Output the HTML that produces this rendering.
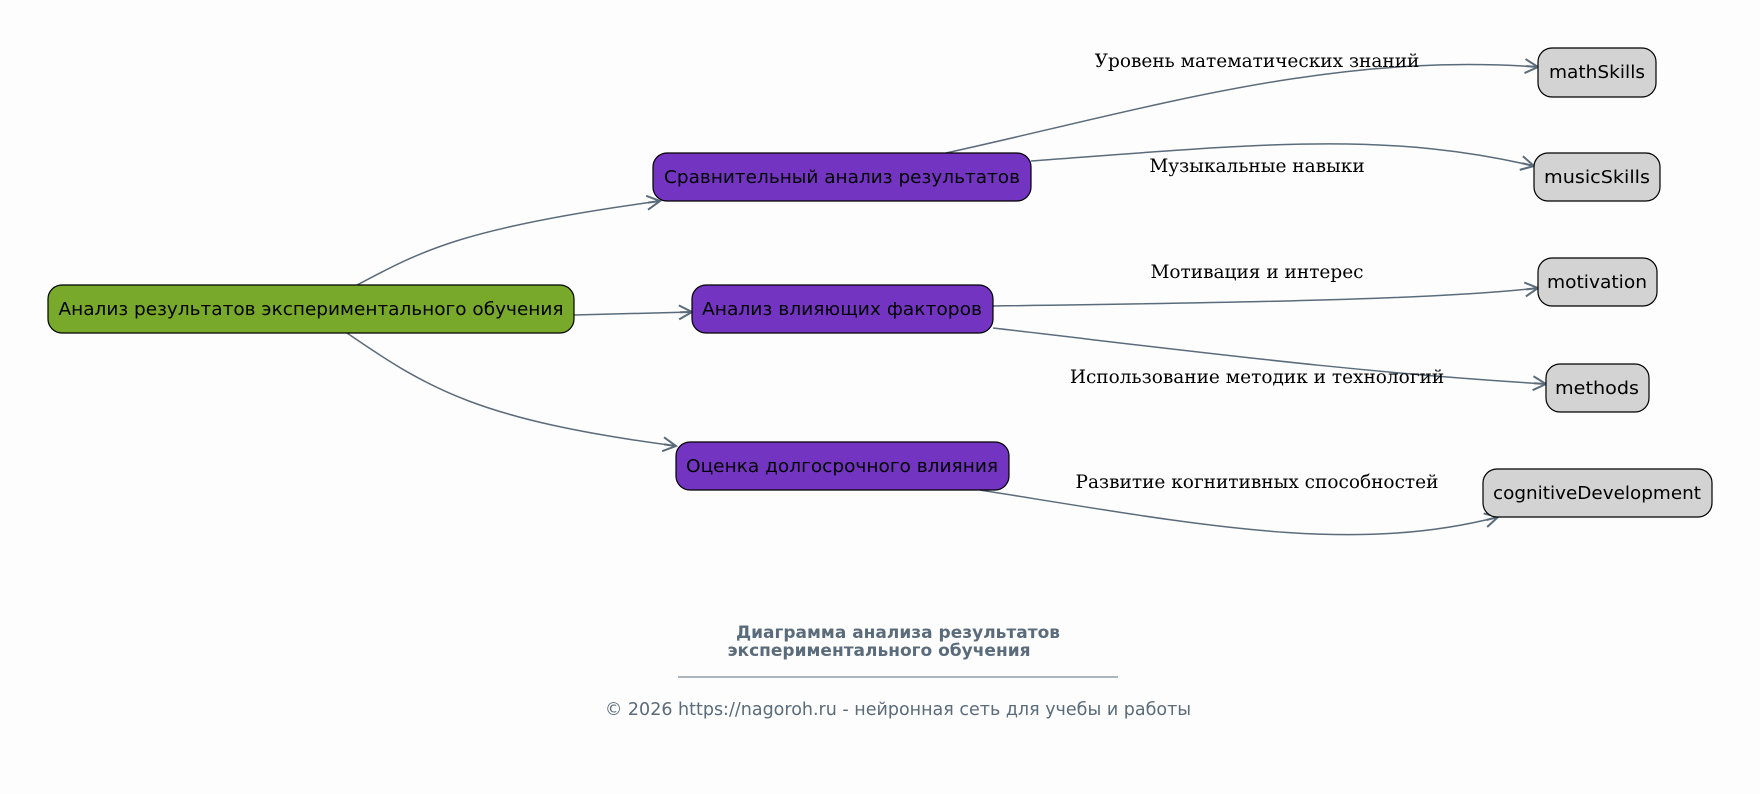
<!DOCTYPE html>
<html><head><meta charset="utf-8"><style>html,body{margin:0;padding:0;background:#fdfdfd}svg{display:block}</style></head>
<body>
<svg width="1760" height="794" viewBox="0 0 1760 794" xmlns="http://www.w3.org/2000/svg">
<defs>
<marker id="a" viewBox="0 0 16 16" refX="14" refY="8" markerWidth="16" markerHeight="16" markerUnits="userSpaceOnUse" orient="auto">
<path d="M1,1 L14,8 L1,15" fill="none" stroke="#5a6b7b" stroke-width="2"/>
<path d="M2,8 L14,8" stroke="#5a6b7b" stroke-width="2"/>
</marker>
</defs>
<rect width="1760" height="794" fill="#fdfdfd"/>
<g fill="none" stroke="#5a6b7b" stroke-width="1.5" marker-end="url(#a)">
<path d="M357,285 C420,252 460,228 660,201"/>
<path d="M574,315 L692,312"/>
<path d="M347,333 C430,390 480,420 676,446"/>
<path d="M946,153 C1150,108 1330,52 1538,67"/>
<path d="M1031,161 C1250,145 1380,130 1534,166"/>
<path d="M993,306 C1300,302 1450,298 1538,288"/>
<path d="M993,328 C1200,352 1350,372 1546,384"/>
<path d="M980,490 C1200,525 1350,555 1498,517"/>
</g>
<g stroke="#000" stroke-width="1.2">
<rect x="48" y="285" width="526" height="48" rx="14" fill="#78a92a"/>
<rect x="653" y="153" width="378" height="48" rx="14" fill="#7434c2"/>
<rect x="692" y="285" width="301" height="48" rx="14" fill="#7434c2"/>
<rect x="676" y="442" width="333" height="48" rx="14" fill="#7434c2"/>
<rect x="1538" y="48" width="118" height="49" rx="14" fill="#d3d3d3"/>
<rect x="1534" y="153" width="126" height="48" rx="14" fill="#d3d3d3"/>
<rect x="1538" y="258" width="119" height="48" rx="14" fill="#d3d3d3"/>
<rect x="1546" y="364" width="103" height="48" rx="14" fill="#d3d3d3"/>
<rect x="1483" y="469" width="229" height="48" rx="14" fill="#d3d3d3"/>
</g>
<g font-family="'DejaVu Sans', sans-serif" font-size="18" fill="#000" text-anchor="middle">
<text x="311" y="315" textLength="505" lengthAdjust="spacingAndGlyphs">Анализ результатов экспериментального обучения</text>
<text x="842" y="183" textLength="356" lengthAdjust="spacingAndGlyphs">Сравнительный анализ результатов</text>
<text x="842" y="315" textLength="280" lengthAdjust="spacingAndGlyphs">Анализ влияющих факторов</text>
<text x="842" y="472" textLength="312" lengthAdjust="spacingAndGlyphs">Оценка долгосрочного влияния</text>
<text x="1597" y="78" textLength="96" lengthAdjust="spacingAndGlyphs">mathSkills</text>
<text x="1597" y="183" textLength="106" lengthAdjust="spacingAndGlyphs">musicSkills</text>
<text x="1597" y="288" textLength="100" lengthAdjust="spacingAndGlyphs">motivation</text>
<text x="1597" y="394" textLength="84" lengthAdjust="spacingAndGlyphs">methods</text>
<text x="1597" y="499" textLength="208" lengthAdjust="spacingAndGlyphs">cognitiveDevelopment</text>
</g>
<g font-family="'DejaVu Serif', serif" font-size="18.5" fill="#000" text-anchor="middle">
<text x="1257" y="67">Уровень математических знаний</text>
<text x="1257" y="172">Музыкальные навыки</text>
<text x="1257" y="278">Мотивация и интерес</text>
<text x="1257" y="383">Использование методик и технологий</text>
<text x="1257" y="488">Развитие когнитивных способностей</text>
</g>
<g font-family="'DejaVu Sans', sans-serif" fill="#5a6b7b" text-anchor="middle">
<text x="898" y="638" font-size="17" font-weight="bold">Диаграмма анализа результатов</text>
<text x="879" y="656" font-size="17" font-weight="bold">экспериментального обучения</text>
<line x1="678" y1="677" x2="1118" y2="677" stroke="#5a6b7b" stroke-width="1"/>
<text x="898" y="715" font-size="17.5">© 2026 https://nagoroh.ru - нейронная сеть для учебы и работы</text>
</g>
</svg>
</body></html>
